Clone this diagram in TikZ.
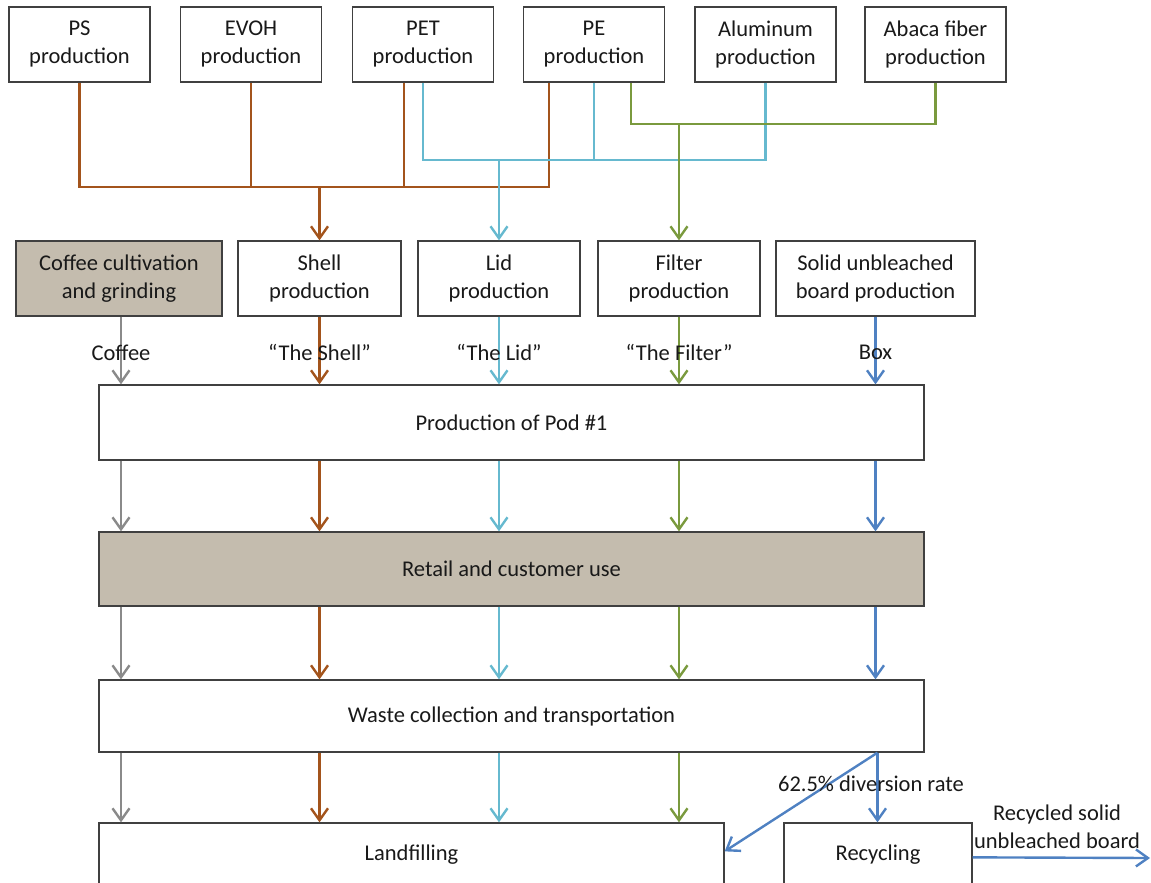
\documentclass[tikz,border=0pt]{standalone}
\usepackage{fontspec}
\setmainfont{Carlito}
\usetikzlibrary{arrows.meta}
\definecolor{cbrown}{HTML}{A3541C}
\definecolor{ccyan}{HTML}{66B9CF}
\definecolor{cgreen}{HTML}{7A9A3E}
\definecolor{cblue}{HTML}{4F81C2}
\definecolor{cgray}{HTML}{8A8A8A}
\definecolor{boxc}{HTML}{404040}
\definecolor{tan}{HTML}{C4BCAE}
\begin{document}
\begin{tikzpicture}[x=1pt,y=-1pt,
  box/.style={draw=boxc,line width=1.3pt,fill=white,inner sep=0pt,align=center,
              font=\fontsize{22.5}{28}\selectfont,text=black!90},
  topbox/.style={box,minimum width=141pt,minimum height=75pt},
  midbox/.style={box,minimum height=75pt},
  flow/.style={line width=2.4pt,-{Straight Barb[length=12pt,width=17pt]}},
  link/.style={line width=2.4pt},
  lbl/.style={font=\fontsize{22.5}{28}\selectfont,inner sep=0pt,align=center,text=black!90}]
\useasboundingbox (0,0) rectangle (1151,883);
\clip (0,0) rectangle (1151,883);

% top row
\node[topbox] (ps)    at (79.5,44.5)  {PS\\production};
\node[topbox] (evoh)  at (251,44.5)   {EVOH\\production};
\node[topbox] (pet)   at (423,44.5)   {PET\\production};
\node[topbox] (pe)    at (594,44.5)   {PE\\production};
\node[topbox] (al)    at (765.5,44.5) {Aluminum\\production};
\node[topbox] (abaca) at (935.5,44.5) {Abaca fiber\\production};

% second row
\node[midbox,fill=tan,minimum width=206pt] (coffee) at (119,278.5) {Coffee cultivation\\and grinding};
\node[midbox,minimum width=163pt] (shell)  at (319.5,278.5) {Shell\\production};
\node[midbox,minimum width=162pt] (lid)    at (499,278.5)   {Lid\\production};
\node[midbox,minimum width=162pt] (filter) at (679,278.5)   {Filter\\production};
\node[midbox,minimum width=199pt] (solid)  at (875.5,278.5) {Solid unbleached\\board production};

% main boxes
\node[box,minimum width=825pt,minimum height=75pt] (pod)    at (511.5,422.5) {Production of Pod \#1};
\node[box,fill=tan,minimum width=825pt,minimum height=74pt] (retail) at (511.5,569) {Retail and customer use};
\node[box,minimum width=825pt,minimum height=72pt] (waste)  at (511.5,716) {Waste collection and transportation};
\node[box,minimum width=625pt,minimum height=64pt] (landfill) at (411.5,855) {Landfilling};
\node[box,minimum width=188pt,minimum height=64pt] (recyc)  at (878,855) {Recycling};

% junctions
\coordinate (brj) at (319.5,187);
\coordinate (blj) at (499,160);
\coordinate (gnj) at (679,124);

% brown (shell)
\draw[link,cbrown] (ps.south) |- (brj);
\draw[link,cbrown] (evoh.south) |- (brj);
\draw[link,cbrown] ([xshift=-19pt]pet.south) |- (brj);
\draw[link,cbrown] ([xshift=-45pt]pe.south) |- (brj);
\draw[flow,cbrown] (brj) -- (shell.north);

% cyan (lid)
\draw[link,ccyan] (pet.south) |- (blj);
\draw[link,ccyan] (pe.south) |- (blj);
\draw[link,ccyan] (al.south) |- (blj);
\draw[flow,ccyan] (blj) -- (lid.north);

% green (filter)
\draw[link,cgreen] ([xshift=37pt]pe.south) |- (gnj);
\draw[link,cgreen] (abaca.south) |- (gnj);
\draw[flow,cgreen] (gnj) -- (filter.north);

% second row to pod
\draw[flow,cgray]  ([xshift=2pt]coffee.south) -- node[lbl,yshift=-2pt]{Coffee} ([xshift=2pt]coffee.south |- pod.north);
\draw[flow,cbrown] (shell.south) -- node[lbl,yshift=-2pt]{“The Shell”} (shell.south |- pod.north);
\draw[flow,ccyan]  (lid.south) -- node[lbl,yshift=-2pt]{“The Lid”} (lid.south |- pod.north);
\draw[flow,cgreen] (filter.south) -- node[lbl,yshift=-2pt]{“The Filter”} (filter.south |- pod.north);
\draw[flow,cblue]  (solid.south) -- node[lbl,yshift=-2pt]{Box} (solid.south |- pod.north);

% columns
\foreach \n/\c/\s in {coffee/cgray/2pt,shell/cbrown/0pt,lid/ccyan/0pt,filter/cgreen/0pt,solid/cblue/0pt}{
  \draw[flow,\c] ([xshift=\s]pod.south -| \n.south) -- ([xshift=\s]retail.north -| \n.south);
  \draw[flow,\c] ([xshift=\s]retail.south -| \n.south) -- ([xshift=\s]waste.north -| \n.south);
}
\foreach \n/\c/\s in {coffee/cgray/2pt,shell/cbrown/0pt,lid/ccyan/0pt,filter/cgreen/0pt}{
  \draw[flow,\c] ([xshift=\s]waste.south -| \n.south) -- ([xshift=\s]landfill.north -| \n.south);
}
\draw[flow,cblue] ([xshift=2pt]waste.south -| solid.south) -- ([xshift=2pt]recyc.north -| solid.south);
\draw[flow,cblue] ([xshift=2pt]waste.south -| solid.south) -- ([yshift=-29pt]landfill.north east);
\node[lbl] (div) at (871,784) {62.5\% diversion rate};

\coordinate (recend) at (1150,858);
\draw[flow,cblue] ([yshift=-35pt]recyc.north east) -- (recend);
\node[lbl] (reclbl) at (1057,827) {Recycled solid\\unbleached board};
\end{tikzpicture}
\end{document}
